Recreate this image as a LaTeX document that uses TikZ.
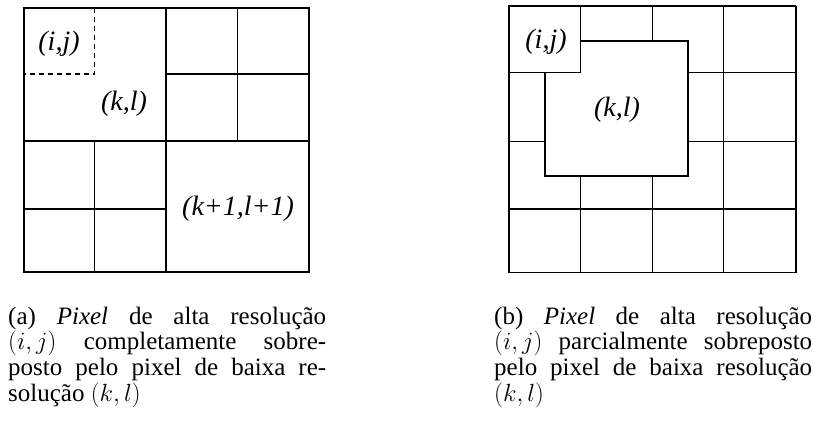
\documentclass[tikz,border=0pt]{standalone}
\usepackage{fontspec}
\setmainfont{Liberation Serif}
\usetikzlibrary{positioning}
\tolerance=9999
\hbadness=10000
\hyphenpenalty=10000

\begin{document}
\begin{tikzpicture}[
  x=1pt, y=-1pt,
  gline/.style={line width=1.3pt},
  bline/.style={line width=2.8pt},
  lbl/.style={font=\fontsize{28}{28}\selectfont\itshape, inner sep=0pt},
  capbox/.style={font=\fontsize{25}{25.7}\selectfont, text width=318pt, align=justify, inner sep=0pt, anchor=base west}
]
\useasboundingbox (0,0) rectangle (813,423);

% (a) quatro pixels de baixa resolucao
\draw[gline] (166,8) rectangle (309,141);
\draw[gline] (237.5,8) -- (237.5,141);
\draw[gline] (166,74) -- (309,74);
\draw[gline] (24,141) rectangle (166,272);
\draw[gline] (94.5,141) -- (94.5,272);
\draw[gline] (24,209) -- (166,209);
\draw[gline, dashed, dash pattern=on 5pt off 4pt] (94.5,8) -- (94.5,74) -- (24,74);
\draw[bline] (24,8) rectangle (166,141);
\draw[bline] (166,141) rectangle (309,272);

\node[lbl] (ija)  at (59,44)   {(i,j)};
\node[lbl] (kla)  at (124,104) {(k,l)};
\node[lbl] (kl1a) at (238,209) {(k+1,l+1)};

% (b) pixel deslocado
\foreach \x in {509,580.5,652.5,723.5,796}
  \draw[gline] (\x,6) -- (\x,272.5);
\foreach \y in {6,72.5,141.5,209,272.5}
  \draw[gline] (509,\y) -- (796,\y);
\draw[bline, fill=white] (545,41) rectangle (688,176);
\draw[gline, fill=white] (509,6) rectangle (580.5,72.5);

\node[lbl] (ijb) at (546,42)  {(i,j)};
\node[lbl] (klb) at (617,110) {(k,l)};

\node[capbox] (capa) at (8,324) {(a) \textit{Pixel} de alta resolução\linebreak
  $(i,j)$ completamente sobre-\linebreak
  posto pelo pixel de baixa re-\linebreak
  solução $(k,l)$};
\node[capbox] (capb) at (494,324) {(b) \textit{Pixel} de alta resolução\linebreak
  $(i,j)$ parcialmente sobreposto\linebreak
  pelo pixel de baixa resolução\linebreak
  $(k,l)$};
\end{tikzpicture}
\end{document}
